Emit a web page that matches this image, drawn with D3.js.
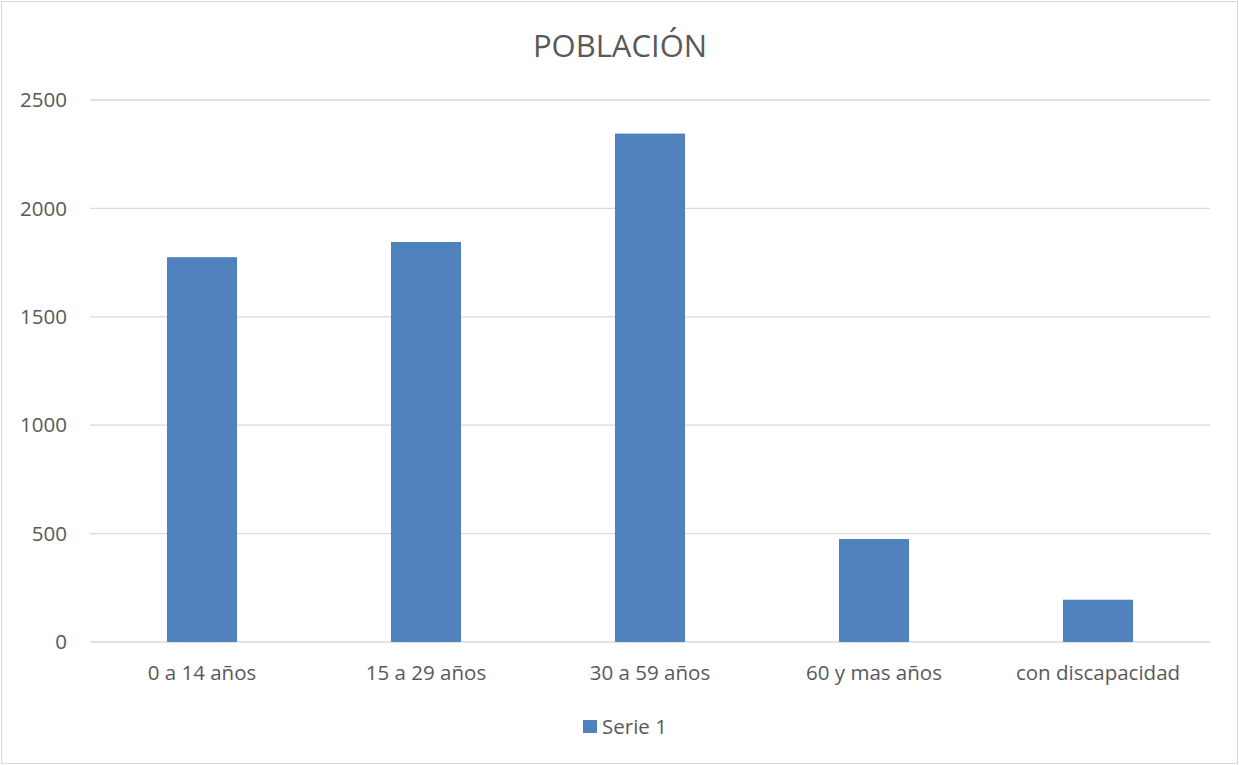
<!DOCTYPE html>
<html>
<head>
<meta charset="utf-8">
<script src="https://d3js.org/d3.v7.min.js"></script>
<style>
  html, body { margin: 0; padding: 0; background: #fff; }
  text { font-family: "Open Sans", sans-serif; fill: #595959; }
</style>
</head>
<body>
<div id="chart"></div>
<script>
// --- DATA ---
const categories = ["0 a 14 años", "15 a 29 años", "30 a 59 años", "60 y mas años", "con discapacidad"];
const serie1 = [1775, 1845, 2345, 475, 195];
const yTicks = [0, 500, 1000, 1500, 2000, 2500];
const seriesName = "Serie 1";
const title = "POBLACIÓN";

const initChart = () => {
    const width = 1239, height = 765;
    const margin = { top: 100, right: 29, bottom: 123, left: 90 };
    const fontSize = "20.5px";

    const svg = d3.select("#chart")
        .append("svg")
        .attr("width", width)
        .attr("height", height);

    // outer border
    svg.append("rect")
        .attr("x", 1.5).attr("y", 1.5)
        .attr("width", width - 3).attr("height", height - 3)
        .attr("fill", "#fff")
        .attr("stroke", "#d9d9d9")
        .attr("stroke-width", 1);

    const x = d3.scaleBand()
        .domain(categories)
        .range([margin.left, width - margin.right])
        .padding(0);

    const y = d3.scaleLinear()
        .domain([0, 2500])
        .range([height - margin.bottom, margin.top]);

    // gridlines
    svg.append("g")
        .selectAll("line")
        .data(yTicks)
        .join("line")
        .attr("x1", margin.left)
        .attr("x2", width - margin.right)
        .attr("y1", d => y(d))
        .attr("y2", d => y(d))
        .attr("stroke", "#d9d9d9")
        .attr("stroke-width", 1.3);

    // y labels
    svg.append("g")
        .selectAll("text")
        .data(yTicks)
        .join("text")
        .attr("x", 67)
        .attr("y", d => y(d))
        .attr("dy", "0.35em")
        .attr("text-anchor", "end")
        .attr("font-size", fontSize)
        .text(d => d);

    // bars
    const barW = x.bandwidth() * 0.3125;
    svg.append("g")
        .selectAll("rect")
        .data(serie1)
        .join("rect")
        .attr("x", (d, i) => x(categories[i]) + (x.bandwidth() - barW) / 2)
        .attr("y", d => y(d))
        .attr("width", barW)
        .attr("height", d => y(0) - y(d))
        .attr("fill", "#4f81bd");

    // x labels
    svg.append("g")
        .selectAll("text")
        .data(categories)
        .join("text")
        .attr("x", d => x(d) + x.bandwidth() / 2)
        .attr("y", 673)
        .attr("dy", "0.35em")
        .attr("text-anchor", "middle")
        .attr("font-size", fontSize)
        .text(d => d);

    // title
    svg.append("text")
        .attr("x", 620)
        .attr("y", 46)
        .attr("dy", "0.35em")
        .attr("text-anchor", "middle")
        .attr("font-size", "31px")
        .text(title);

    // legend
    const legend = svg.append("g");
    legend.append("rect")
        .attr("x", 583).attr("y", 720)
        .attr("width", 14).attr("height", 13)
        .attr("fill", "#4f81bd");
    legend.append("text")
        .attr("x", 602).attr("y", 727)
        .attr("dy", "0.35em")
        .attr("font-size", fontSize)
        .text(seriesName);
};

document.addEventListener("DOMContentLoaded", initChart);
</script>
</body>
</html>
